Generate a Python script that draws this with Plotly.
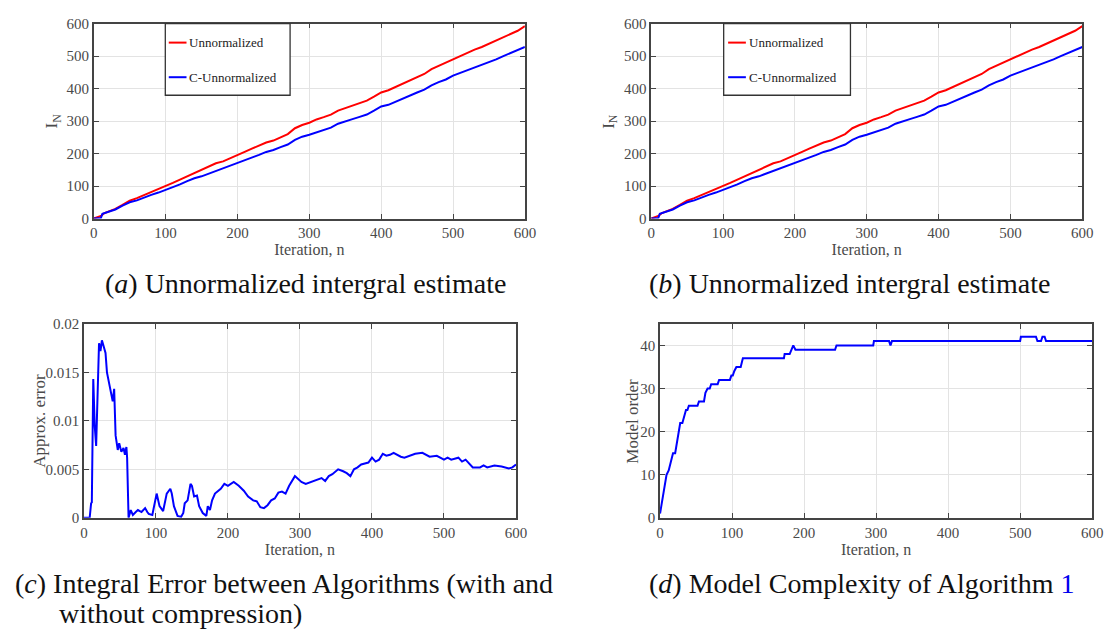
import plotly.graph_objects as go

# ---------------- data ----------------
# (a)/(b) unnormalized integral estimates
n_unnorm = [0, 5, 10, 15, 20, 30, 40, 50, 60, 70, 80, 90, 100, 110, 120, 130, 140, 150, 160, 170, 180, 190,
            200, 210, 220, 230, 240, 250, 260, 270, 280, 290, 300, 310, 320, 330, 340, 350, 360, 370, 380,
            390, 400, 410, 420, 430, 440, 450, 460, 470, 480, 490, 500, 510, 520, 530, 540, 550, 560, 570,
            580, 590, 600]
unnormalized = [0, 3, 8, 17, 21, 30, 42, 55, 63, 72, 83, 90, 100, 110, 120, 130, 140, 148, 160, 170, 176, 185,
                194, 205, 215, 225, 234, 240, 250, 260, 278, 288, 295, 305, 312, 320, 332, 340, 347, 355, 363,
                375, 388, 395, 405, 417, 427, 435, 445, 460, 470, 480, 492, 500, 510, 520, 528, 538, 547, 556,
                566, 578, 592]
n_cunnorm = [0, 5, 10, 12, 20, 30, 40, 50, 60, 70, 80, 90, 100, 110, 120, 130, 140, 150, 160, 170, 180, 190,
             200, 210, 220, 230, 240, 250, 260, 270, 280, 290, 300, 310, 320, 330, 340, 350, 360, 370, 380,
             390, 400, 410, 420, 430, 440, 450, 460, 470, 480, 490, 500, 510, 520, 530, 540, 550, 560, 570,
             580, 590, 600]
c_unnormalized = [0, 0, 2, 15, 20, 28, 40, 50, 56, 65, 73, 80, 88, 97, 105, 115, 124, 130, 138, 148, 155, 162,
                  170, 178, 188, 196, 205, 211, 220, 228, 242, 252, 258, 265, 272, 280, 292, 300, 306, 313, 320,
                  332, 345, 350, 360, 370, 380, 388, 397, 410, 420, 428, 440, 448, 457, 465, 472, 480, 490, 500,
                  510, 518, 528]

# (c) integral error between algorithms
err_n = [0, 8, 10, 11, 13, 15, 17, 19, 21, 23, 25, 27, 30, 32, 35, 38, 40, 42, 44, 47, 49, 52, 55, 57, 59, 60,
         61, 62, 65, 68, 72, 75, 80, 85, 88, 90, 95, 97, 101, 105, 110, 115, 120, 122, 125, 130, 135, 138, 140,
         144, 148, 150, 153, 157, 160, 165, 170, 172, 175, 178, 182, 190, 195, 200, 205, 208, 215, 222, 228,
         235, 240, 245, 250, 255, 260, 265, 270, 275, 280, 285, 293, 297, 302, 308, 315, 322, 330, 335, 340,
         345, 353, 360, 365, 370, 375, 380, 385, 390, 395, 400, 405, 410, 415, 420, 425, 430, 435, 440, 445,
         455, 460, 470, 475, 480, 490, 500, 505, 510, 520, 525, 530, 535, 540, 550, 555, 560, 570, 580, 590,
         595, 600]
err_val = [0, 0, 0.0015, 0.0016, 0.0143, 0.0095, 0.0074, 0.0125, 0.0180, 0.0172, 0.0183, 0.0178, 0.0170, 0.0150,
           0.0140, 0.0130, 0.0120, 0.0133, 0.0085, 0.0070, 0.0077, 0.0068, 0.0072, 0.0065, 0.0073, 0.0062,
           0.0002, 0.0000, 0.0008, 0.0003, 0.0006, 0.0008, 0.0006, 0.0010, 0.0006, 0.0004, 0.0003, 0.0010,
           0.0025, 0.0012, 0.0007, 0.0025, 0.0030, 0.0025, 0.0012, 0.0002, 0.0001, 0.0005, 0.0015, 0.0018,
           0.0035, 0.0033, 0.0022, 0.0023, 0.0012, 0.0005, 0.0002, 0.0012, 0.0008, 0.0018, 0.0025, 0.0030,
           0.0035, 0.0033, 0.0035, 0.0037, 0.0033, 0.0028, 0.0022, 0.0018, 0.0017, 0.0011, 0.0010, 0.0013,
           0.0018, 0.0020, 0.0026, 0.0027, 0.0025, 0.0033, 0.0043, 0.0040, 0.0037, 0.0035, 0.0037, 0.0039,
           0.0041, 0.0038, 0.0043, 0.0045, 0.0050, 0.0048, 0.0046, 0.0043, 0.0050, 0.0052, 0.0055, 0.0056,
           0.0057, 0.0062, 0.0058, 0.0060, 0.0066, 0.0064, 0.0065, 0.0067, 0.0065, 0.0063, 0.0062, 0.0065,
           0.0066, 0.0067, 0.0065, 0.0063, 0.0064, 0.0060, 0.0062, 0.0060, 0.0062, 0.0058, 0.0060, 0.0056,
           0.0052, 0.0052, 0.0054, 0.0052, 0.0054, 0.0053, 0.0051, 0.0052, 0.0055]

# (d) model order
order_n = [0, 5, 9, 12, 15, 18, 21, 22, 25, 28, 31, 33, 36, 38, 40, 52, 54, 61, 63, 66, 69, 71, 80, 82, 97, 99,
           101, 103, 106, 112, 115, 172, 173, 180, 183, 185, 188, 243, 245, 296, 297, 318, 320, 322, 500, 501,
           522, 524, 529, 531, 534, 536, 600]
order_val = [1, 6, 10, 11, 13, 15, 15, 16, 20, 22, 22, 23, 25, 25, 26, 26, 27, 27, 29, 30, 30, 31, 31, 32, 32, 33,
             33, 34, 35, 35, 37, 37, 38, 38, 39, 40, 39, 39, 40, 40, 41, 41, 40, 41, 41, 42, 42, 41, 41, 42,
             42, 41, 41]

legend_labels = ["Unnormalized", "C-Unnormalized"]
captions = ["(<i>a</i>) Unnormalized intergral estimate",
            "(<i>b</i>) Unnormalized intergral estimate",
            "(<i>c</i>) Integral Error between Algorithms (with and",
            "without compression)",
            "(<i>d</i>) Model Complexity of Algorithm <span style='color:#0000ee'>1</span>"]

# ---------------- layout helpers ----------------
W, H = 1114, 635
def px(x):
    return x / W
def py(y):
    return 1 - y / H

SERIF = "Liberation Serif"
RED = "#ff0000"
BLUE = "#0000ff"
TICK_COLOR = "#4a4a4a"
AXIS_COLOR = "#444444"
GRID_COLOR = "#e3e3e3"

fig = go.Figure()

fig.add_trace(go.Scatter(x=n_unnorm, y=unnormalized, mode="lines", line=dict(color=RED, width=2),
                         xaxis="x", yaxis="y", showlegend=False))
fig.add_trace(go.Scatter(x=n_cunnorm, y=c_unnormalized, mode="lines", line=dict(color=BLUE, width=2),
                         xaxis="x", yaxis="y", showlegend=False))
fig.add_trace(go.Scatter(x=n_unnorm, y=unnormalized, mode="lines", line=dict(color=RED, width=2),
                         xaxis="x2", yaxis="y2", showlegend=False))
fig.add_trace(go.Scatter(x=n_cunnorm, y=c_unnormalized, mode="lines", line=dict(color=BLUE, width=2),
                         xaxis="x2", yaxis="y2", showlegend=False))
fig.add_trace(go.Scatter(x=err_n, y=err_val, mode="lines", line=dict(color=BLUE, width=2),
                         xaxis="x3", yaxis="y3", showlegend=False))
fig.add_trace(go.Scatter(x=order_n, y=order_val, mode="lines", line=dict(color=BLUE, width=2),
                         xaxis="x4", yaxis="y4", showlegend=False))

def xaxis(domain, anchor):
    return dict(domain=domain, anchor=anchor, range=[0, 600], tickvals=[0, 100, 200, 300, 400, 500, 600],
                ticks="inside", ticklen=5, tickcolor=AXIS_COLOR, mirror="ticks", showline=True,
                linecolor=AXIS_COLOR, linewidth=1.5, showgrid=True, gridcolor=GRID_COLOR, gridwidth=1,
                zeroline=False, tickfont=dict(family=SERIF, size=15, color=TICK_COLOR),
                title=dict(text="Iteration, n", font=dict(family=SERIF, size=16, color=TICK_COLOR), standoff=2))

def yaxis(domain, anchor, rng, tickvals, ticktext):
    return dict(domain=domain, anchor=anchor, range=rng, tickvals=tickvals, ticktext=ticktext,
                ticks="inside", ticklen=5, tickcolor=AXIS_COLOR, mirror="ticks", showline=True,
                linecolor=AXIS_COLOR, linewidth=1.5, showgrid=True, gridcolor=GRID_COLOR, gridwidth=1,
                zeroline=False, tickfont=dict(family=SERIF, size=15, color=TICK_COLOR))

dom_top = [py(216), py(16)]
dom_bot = [py(523), py(324)]

fig.update_layout(
    width=W, height=H, margin=dict(l=0, r=0, t=0, b=0),
    paper_bgcolor="white", plot_bgcolor="white", showlegend=False,
    xaxis=xaxis([px(91), px(528)], "y"),
    yaxis=yaxis(dom_top, "x", [0, 600], [0, 100, 200, 300, 400, 500, 600],
                ["0", "100", "200", "300", "400", "500", "600"]),
    xaxis2=xaxis([px(656), px(1093)], "y2"),
    yaxis2=yaxis(dom_top, "x2", [0, 600], [0, 100, 200, 300, 400, 500, 600],
                 ["0", "100", "200", "300", "400", "500", "600"]),
    xaxis3=xaxis([px(81), px(519)], "y3"),
    yaxis3=yaxis(dom_bot, "x3", [0, 0.02], [0, 0.005, 0.01, 0.015, 0.02],
                 ["0", "0.005", "0.01", "0.015", "0.02"]),
    xaxis4=xaxis([px(665), px(1103)], "y4"),
    yaxis4=yaxis(dom_bot, "x4", [0, 45], [0, 10, 20, 30, 40], ["0", "10", "20", "30", "40"]),
)

annotations = []
shapes = []

def ytitle(text, x, y):
    annotations.append(dict(text=text, x=px(x), y=py(y), xref="paper", yref="paper", showarrow=False,
                            textangle=-90, xanchor="center", yanchor="middle",
                            font=dict(family=SERIF, size=17, color=TICK_COLOR)))
ytitle("I<sub>N</sub>", 50, 116)
ytitle("I<sub>N</sub>", 614, 116)
ytitle("Approx. error", 36, 424)
ytitle("Model order", 637, 424)

def legend(box_l, box_r, line_l, line_r, text_l):
    shapes.append(dict(type="rect", xref="paper", yref="paper", x0=px(box_l), x1=px(box_r),
                       y0=py(89.5), y1=py(16), line=dict(color="#333333", width=1.3), fillcolor="white",
                       layer="above"))
    for lab, col, yy in zip(legend_labels, [RED, BLUE], [35.5, 71]):
        shapes.append(dict(type="line", xref="paper", yref="paper", x0=px(line_l), x1=px(line_r),
                           y0=py(yy), y1=py(yy), line=dict(color=col, width=2), layer="above"))
        annotations.append(dict(text=lab, x=px(text_l), y=py(yy), xref="paper", yref="paper",
                                showarrow=False, xanchor="left", yanchor="middle",
                                font=dict(family=SERIF, size=13, color="#222222")))
legend(163.5, 290, 167, 185, 186)
legend(729.5, 858, 734, 752, 753)

CAP_FONT = dict(family=SERIF, size=28, color="#111111")
def caption(text, x, y, anchor):
    annotations.append(dict(text=text, x=px(x), y=py(y), xref="paper", yref="paper", showarrow=False,
                            xanchor=anchor, yanchor="middle", font=CAP_FONT))
caption(captions[0], 306, 283, "center")
caption(captions[1], 857, 283, "center")
caption(captions[2], 9, 590, "left")
caption(captions[3], 54, 621, "left")
caption(captions[4], 652, 590, "left")

fig.update_layout(annotations=annotations, shapes=shapes)
fig.write_html("out.html",
               config={"displayModeBar": False},
               post_script="document.body.style.margin='0';document.body.style.padding='0';"
                           "document.body.style.overflow='hidden';")
